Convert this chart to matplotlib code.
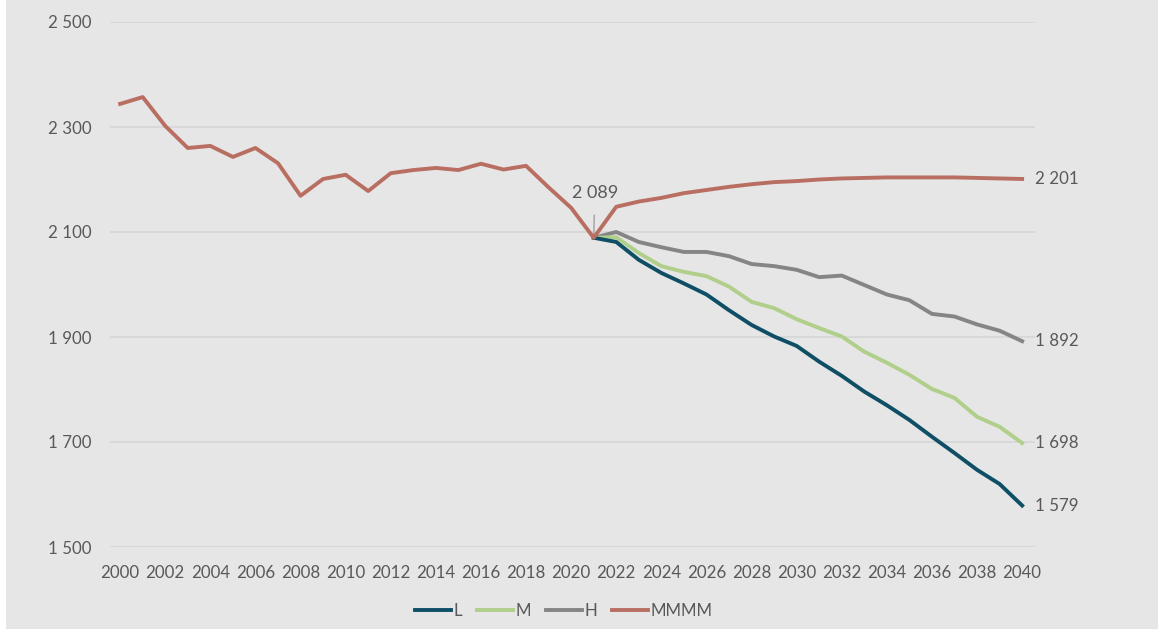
import matplotlib.pyplot as plt
from matplotlib.patches import Rectangle

# data
years_hist = list(range(2000, 2022))
hist = [2344, 2357, 2302, 2260, 2264, 2243, 2260, 2231, 2169, 2201, 2209,
        2178, 2212, 2218, 2222, 2218, 2230, 2219, 2226, 2185, 2146, 2089]

years_proj = list(range(2021, 2041))
low = [2089, 2081, 2047, 2022, 2002, 1981, 1951, 1923, 1901, 1883,
       1853, 1826, 1796, 1770, 1742, 1710, 1679, 1647, 1620, 1579]
mid = [2089, 2090, 2060, 2035, 2024, 2016, 1996, 1967, 1955, 1934,
       1917, 1901, 1872, 1851, 1828, 1801, 1784, 1748, 1729, 1698]
high = [2089, 2100, 2081, 2071, 2062, 2062, 2054, 2039, 2035, 2028,
        2014, 2017, 1999, 1981, 1970, 1944, 1939, 1924, 1912, 1892]
mmmm = [2089, 2148, 2158, 2165, 2174, 2180, 2186, 2191, 2195, 2197,
        2200, 2202, 2203, 2204, 2204, 2204, 2204, 2203, 2202, 2201]

yticks = [1500, 1700, 1900, 2100, 2300, 2500]
xticks = list(range(2000, 2041, 2))

c_low = '#0f4f66'
c_mid = '#b0cf8a'
c_high = '#858585'
c_mmmm = '#b96e62'
c_text = '#595959'
bg = '#e6e6e6'

plt.rcParams['font.family'] = ['Lato', 'DejaVu Sans']
fs = 12.2

fig = plt.figure(figsize=(11.58, 6.32), dpi=100, facecolor='white')
fig.patches.append(Rectangle((6 / 1158, 3 / 632), 1, 1, transform=fig.transFigure,
                             facecolor=bg, edgecolor='none', zorder=-10))
ax = fig.add_axes([110 / 1158, 1 - 547 / 632, 925 / 1158, 525 / 632])
ax.set_facecolor('none')

lw = 2.8
ax.plot(years_proj, low, color=c_low, lw=lw, label='L', zorder=5)
ax.plot(years_proj, mid, color=c_mid, lw=lw, label='M', zorder=4)
ax.plot(years_proj, high, color=c_high, lw=lw, label='H', zorder=3)
ax.plot(years_hist + years_proj[1:], hist + mmmm[1:], color=c_mmmm, lw=lw,
        label='MMMM', zorder=6)

ax.set_xlim(1999.55, 2040.57)
ax.set_ylim(1500, 2500)
ax.set_yticks(yticks)
ax.set_yticklabels([f'{v:,}'.replace(',', ' ') for v in yticks])
ax.set_xticks(xticks)
ax.tick_params(axis='both', length=0, labelsize=fs, colors=c_text)
ax.tick_params(axis='y', pad=13.5)
ax.tick_params(axis='x', pad=13)
ax.grid(axis='y', color='#d6d6d6', lw=1.2)
ax.set_axisbelow(True)
for s in ax.spines.values():
    s.set_visible(False)

# end labels
for series in (mmmm, high, mid, low):
    ax.text(2040.55, series[-1], f'{series[-1]:,}'.replace(',', ' '),
            va='center', ha='left', fontsize=fs, color=c_text)

ax.annotate('2 089', xy=(2021, 2089), xytext=(2021.05, 2174),
            ha='center', va='center', fontsize=fs + 0.8, color=c_text,
            arrowprops=dict(arrowstyle='-', color='#a0a0a0', lw=1,
                            shrinkA=8, shrinkB=0))

leg = fig.legend(loc='center', bbox_to_anchor=(0.487, 1 - 611 / 632), ncol=4,
                 frameon=False, fontsize=fs, handlelength=2.15,
                 handletextpad=0.15, columnspacing=0.85)
for t in leg.get_texts():
    t.set_color(c_text)

fig.savefig('out.png', dpi=100, facecolor=fig.get_facecolor())
